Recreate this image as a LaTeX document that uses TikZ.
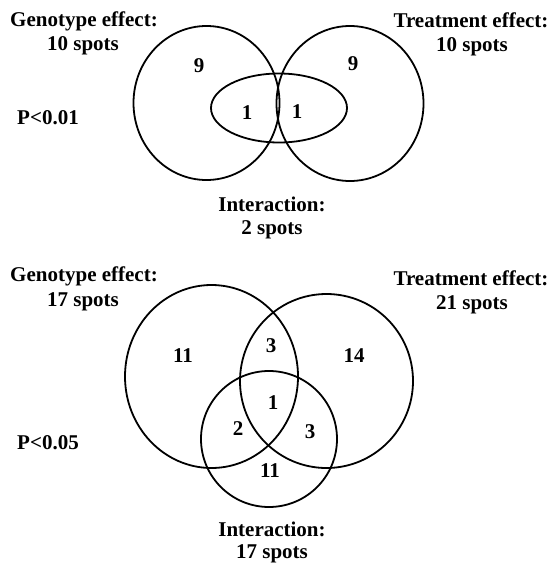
\documentclass[tikz,border=0pt]{standalone}
\usepackage{fontspec}
\setmainfont{Liberation Serif}
\begin{document}
\begin{tikzpicture}[x=1pt,y=-1pt,
  lbl/.style={inner sep=0pt,font=\bfseries\fontsize{21}{25}\selectfont},
  ring/.style={draw=black,line width=1.8pt}]
\useasboundingbox (0,0) rectangle (552,565);
% ---- top diagram (P<0.01)
\draw[ring] (206.5,103) ellipse [x radius=73, y radius=77];
\draw[ring] (350,103.5) ellipse [x radius=73.5, y radius=77.5];
\draw[ring] (279,108) ellipse [x radius=68, y radius=34.5];
\node[lbl] (g1a) at (84,21) {Genotype effect:};
\node[lbl] (g1b) at (83,46) {10 spots};
\node[lbl] (t1a) at (471,20) {Treatment effect:};
\node[lbl] (t1b) at (472,47) {10 spots};
\node[lbl] (p1) at (48,118) {P<0.01};
\node[lbl] (i1a) at (272,204) {Interaction:};
\node[lbl] (i1b) at (272,230) {2 spots};
\node[lbl] (n1) at (199,66) {9};
\node[lbl] (n2) at (353,64) {9};
\node[lbl] (n3) at (247,113) {1};
\node[lbl] (n4) at (297,112) {1};
% ---- bottom diagram (P<0.05)
\draw[ring] (211.5,376.5) ellipse [x radius=86.5, y radius=91.5];
\draw[ring] (326.5,381) ellipse [x radius=86.5, y radius=87];
\draw[ring] (269,439) ellipse [x radius=68, y radius=68];
\node[lbl] (g2a) at (84,276) {Genotype effect:};
\node[lbl] (g2b) at (83,302) {17 spots};
\node[lbl] (t2a) at (471,278) {Treatment effect:};
\node[lbl] (t2b) at (472,305) {21 spots};
\node[lbl] (p2) at (48,443) {P<0.05};
\node[lbl] (i2a) at (272,529) {Interaction:};
\node[lbl] (i2b) at (272,554) {17 spots};
\node[lbl] (m1) at (183,356) {11};
\node[lbl] (m2) at (271,346) {3};
\node[lbl] (m3) at (354,356) {14};
\node[lbl] (m4) at (273,403) {1};
\node[lbl] (m5) at (238,429) {2};
\node[lbl] (m6) at (310,432) {3};
\node[lbl] (m7) at (270,471) {11};
\end{tikzpicture}
\end{document}
